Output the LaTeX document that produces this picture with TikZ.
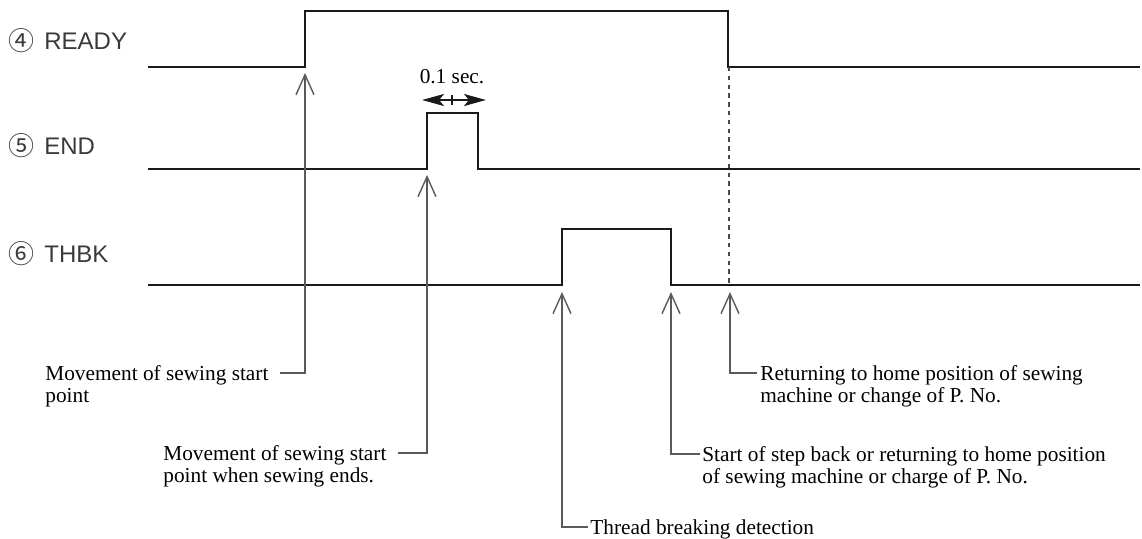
\documentclass[tikz,border=0pt]{standalone}
\usepackage{fontspec}
\setmainfont{Liberation Serif}
\newfontfamily\labelfont{Liberation Sans}
\newfontfamily\circfont{Noto Sans CJK JP}
\usepackage{tikz}
\usetikzlibrary{arrows.meta,positioning,calc}
\definecolor{ink}{HTML}{1A1A1A}
\definecolor{leadgray}{HTML}{5A5A5A}
\definecolor{labgray}{HTML}{3A3A3A}
\tikzset{
  signal/.style={line width=1pt,color=ink,line join=miter},
  leader/.style={line width=.7pt,color=leadgray},
  pointer/.style={leader,-{Straight Barb[length=10pt,width=9pt,line width=.7pt]}},
  guide/.style={line width=.8pt,color=ink!80,dash pattern=on 2.2pt off 2.2pt},
  span/.style={line width=1.2pt,color=ink,-{Stealth[length=11pt,width=6pt,inset=2.5pt]}},
  siglabel/.style={font=\labelfont\fontsize{12pt}{14pt}\selectfont,text=labgray,inner sep=0pt,anchor=west},
  note/.style={font=\fontsize{10.65pt}{11pt}\selectfont,align=left,inner sep=0pt,anchor=north west},
}
\newcommand{\signum}[1]{\makebox[13pt][l]{\raisebox{-0.5pt}{\circfont\fontsize{13pt}{15pt}\selectfont #1}}\hspace{5pt}}

\begin{document}
\begin{tikzpicture}[x=0.5pt,y=-0.5pt]
  \path[use as bounding box] (0,0) rectangle (1142,538);

  % signal names
  \node[siglabel] (lready) at (8,41) {\signum{④}READY};
  \node[siglabel] (lend) at (8,146) {\signum{⑤}END};
  \node[siglabel] (lthbk) at (8,254) {\signum{⑥}THBK};

  % waveforms
  \draw[signal] (148,67) -- (305,67) -- (305,11) -- (728,11) -- (728,67) -- (1140,67);
  \draw[signal] (148,169) -- (427,169) -- (427,113) -- (478,113) -- (478,169) -- (1140,169);
  \draw[signal] (148,285) -- (562,285) -- (562,229) -- (671,229) -- (671,285) -- (1140,285);
  \draw[guide] (729,67) -- (729,285);

  % pulse width
  \coordinate (wmid) at (452,100);
  \coordinate (wleft) at (422,100);
  \coordinate (wright) at (486,100);
  \draw[span] (wmid) -- (wleft);
  \draw[span] (wmid) -- (wright);
  \draw[line width=.8pt,color=ink] ([yshift=2.6pt]wmid) -- ([yshift=-2.6pt]wmid);
  \node[font=\fontsize{10.65pt}{11pt}\selectfont,inner sep=0pt,anchor=base] (wtext) at (452,83) {0.1 sec.};

  % arrow tips
  \coordinate (tipstart) at (305,73);
  \coordinate (tipend) at (427,175);
  \coordinate (tipbreak) at (562,292);
  \coordinate (tipstep) at (671,292);
  \coordinate (tiphome) at (730,292);

  % notes
  \node[note] (nstart) at (45,365) {Movement of sewing start\\point};
  \node[note] (nend) at (163,445) {Movement of sewing start\\point when sewing ends.};
  \node[note] (nbreak) at (590,519) {Thread breaking detection};
  \node[note] (nstep) at (702,446) {Start of step back or returning to home position\\of sewing machine or charge of P. No.};
  \node[note] (nhome) at (760,365) {Returning to home position of sewing\\machine or change of P. No.};

  \draw[pointer] ([shift={(11,8)}]nstart.north east) -| (tipstart);
  \draw[pointer] ([shift={(11,8)}]nend.north east) -| (tipend);
  \draw[pointer] ([shift={(-2,8)}]nbreak.north west) -| (tipbreak);
  \draw[pointer] ([shift={(-2,8)}]nstep.north west) -| (tipstep);
  \draw[pointer] ([shift={(-3,8)}]nhome.north west) -| (tiphome);
\end{tikzpicture}
\end{document}
